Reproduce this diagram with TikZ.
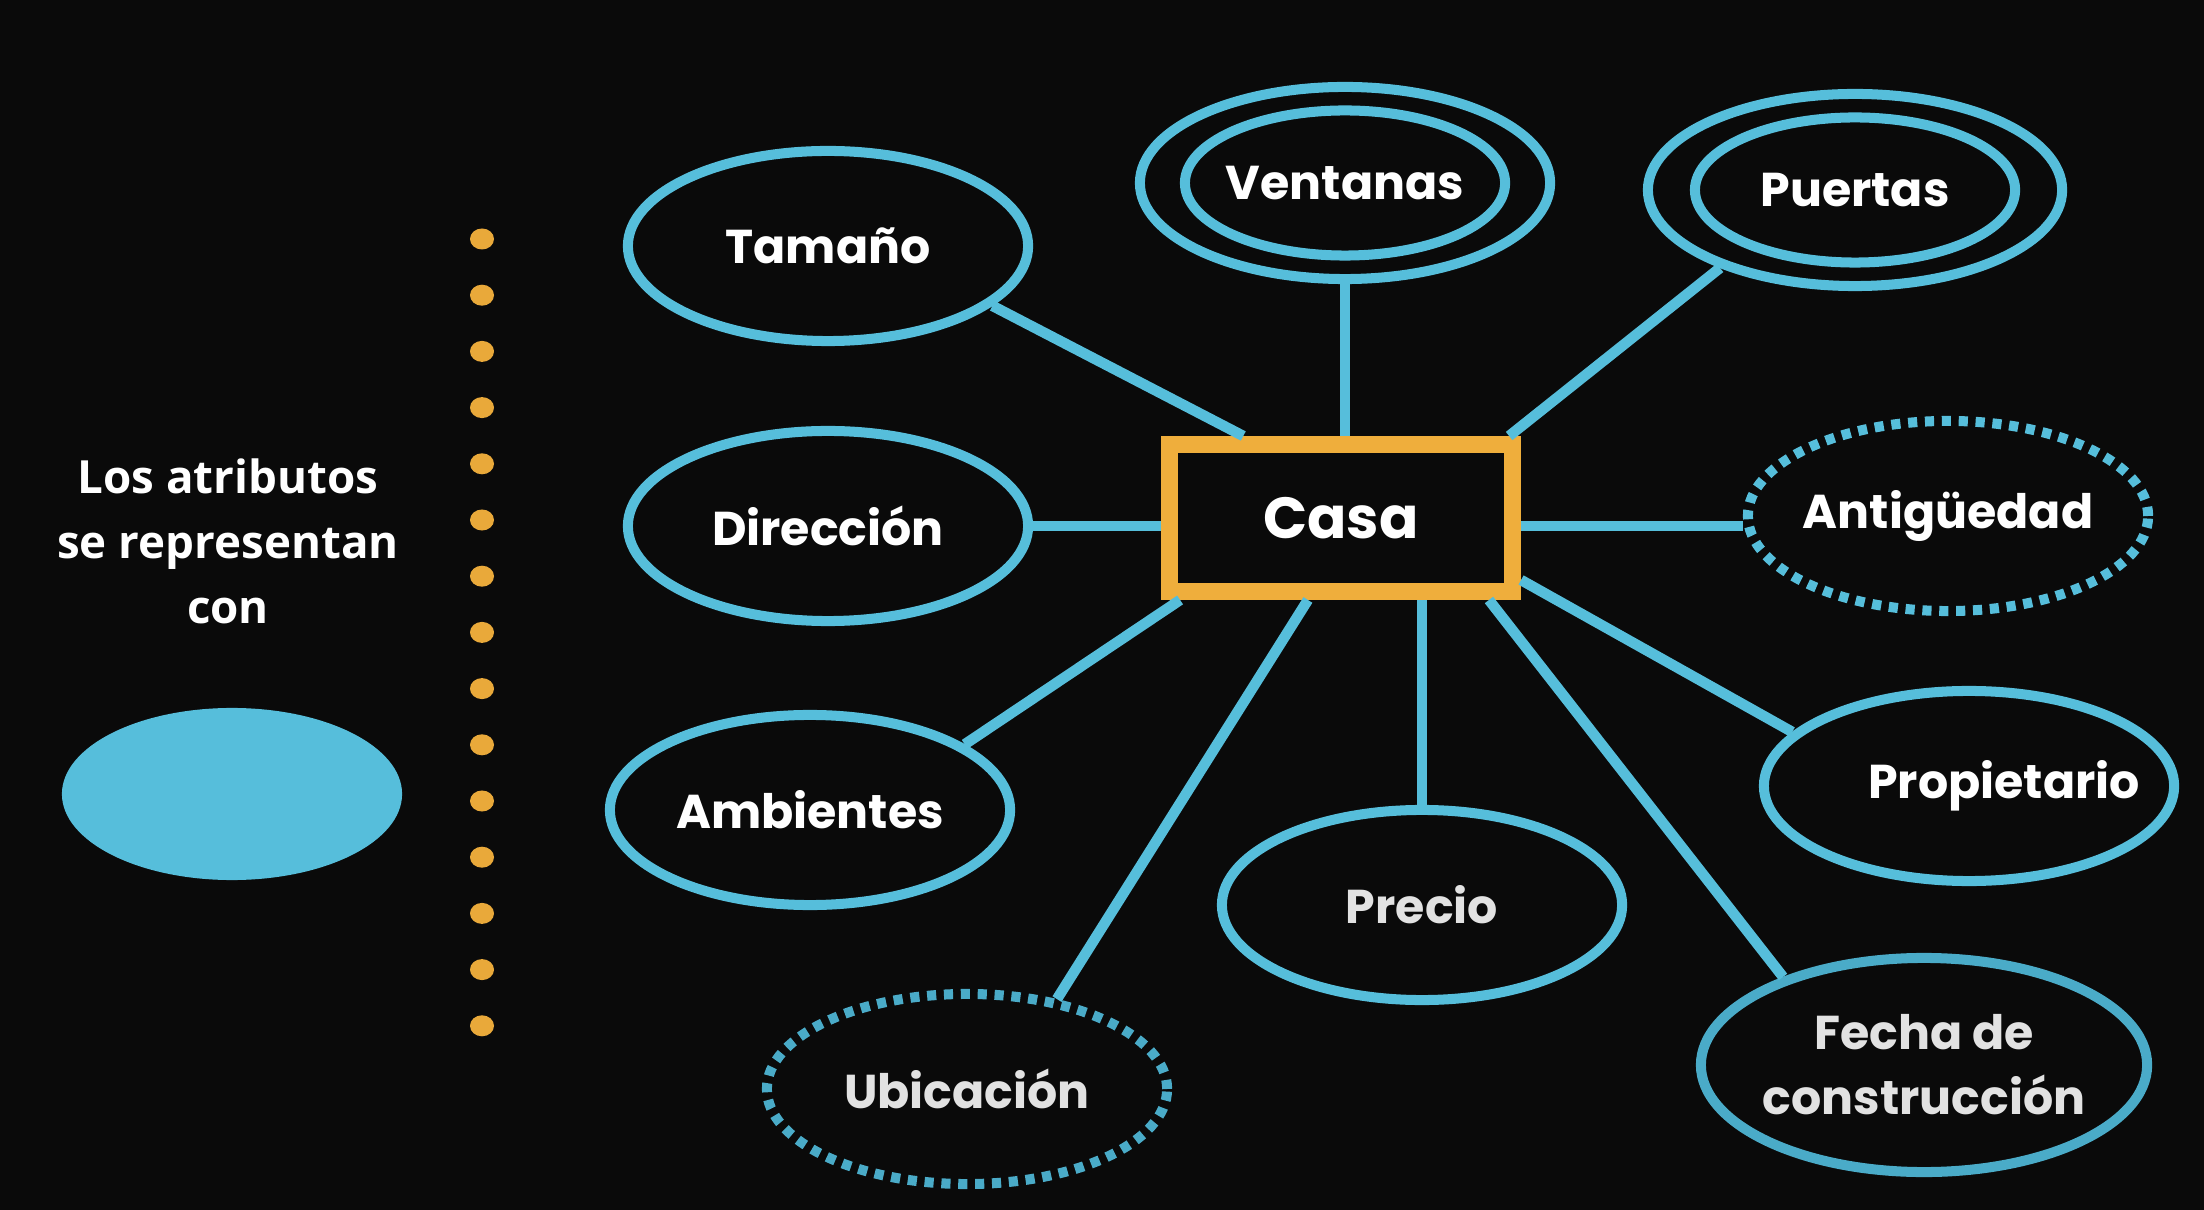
\documentclass[tikz,border=0pt]{standalone}
\usepackage{fontspec}
\newfontfamily\attrfont{Poppins}
\newfontfamily\sidefont{Open Sans}
\usetikzlibrary{positioning,shapes,calc}
\definecolor{bgblack}{HTML}{0A0A0A}
\definecolor{attrblue}{HTML}{56BEDB}
\definecolor{attrbluedk}{HTML}{4AABC8}
\definecolor{casaorange}{HTML}{EFAE3C}
\definecolor{dotorange}{HTML}{E9A93A}
\definecolor{softwhite}{HTML}{E2E2E2}

\begin{document}
\begin{tikzpicture}[x=0.01cm, y=-0.01cm,
    attr/.style={ellipse, draw=attrblue, line width=2.85pt, minimum width=4cm,
      minimum height=1.9cm, inner sep=0pt, inner xsep=-0.5cm, text=white, align=center,
      font=\attrfont\bfseries\fontsize{13.5}{18.5}\selectfont},
    derived/.style={attr, dash pattern=on 2.6pt off 2.2pt},
    link/.style={attrblue, line width=3pt}]
%
    \fill[bgblack] (0,0) rectangle (2204,1210);
%
    % left side: text, sample ellipse and dotted separator
    \node[align=center, text=white,
      font=\sidefont\bfseries\fontsize{13}{18.5}\selectfont] (intro) at (228,541)
      {Los atributos\\se representan\\con};
    \node[ellipse, fill=attrblue, minimum width=3.4cm, minimum height=1.72cm] (sample) at (232,794) {};
    \foreach \i in {0,...,14}
      \fill[dotorange] (482,{239+56.2*\i}) ellipse (0.12cm and 0.105cm);
%
    % entity
    \node[draw=casaorange, line width=4.8pt, minimum width=3.43cm, minimum height=1.47cm,
      text=white, font=\attrfont\bfseries\fontsize{16.5}{20}\selectfont] (casa) at (1341,518) {Casa};
%
    % attributes
    \node[attr] (tam) at (828,246) {Tamaño};
    \node[attr] (dir) at (828,526) {Dirección};
    \node[attr] (amb) at (810,810) {Ambientes};
    \node[attr, minimum width=4.1cm, minimum height=1.92cm] (ven) at (1345,183) {};
    \node[attr, minimum width=3.2cm, minimum height=1.45cm] (ven-in) at (ven) {Ventanas};
    \node[attr, minimum width=4.14cm, minimum height=1.92cm] (pue) at (1855,190) {};
    \node[attr, minimum width=3.2cm, minimum height=1.45cm] (pue-in) at (pue) {Puertas};
    \node[derived] (ant) at (1948,516) {Antigüedad};
    \node[attr, minimum width=4.1cm] (pro) at (1969,786) {\hspace*{0.7cm}Propietario};
    \node[attr, text=softwhite] (pre) at (1422,905) {Precio};
    \node[derived, draw=attrbluedk, text=softwhite] (ubi) at (967,1089) {Ubicación};
    \node[attr, draw=attrbluedk, text=softwhite, minimum width=4.46cm,
      minimum height=2.14cm] (fec) at (1924,1065) {Fecha de\\construcción};
%
    % connectors
    \draw[link] (tam.-20) -- (casa.140);
    \draw[link] (ven.south) -- (casa.north -| ven.south);
    \draw[link] (pue.210) -- (casa.26);
    \draw[link] (dir.east) -- (casa.west |- dir.east);
    \draw[link] (casa.east |- dir.east) -- (ant.west |- dir.east);
    \draw[link] (amb.23) -- (casa.207);
    \draw[link] (ubi.45) -- (casa.-112.5);
    \draw[link] (pre.north) -- (casa.south -| pre.north);
    \draw[link] (fec.148) -- (casa.-29.5);
    \draw[link] (pro.163) -- (casa.-19);
  \end{tikzpicture}
\end{document}
